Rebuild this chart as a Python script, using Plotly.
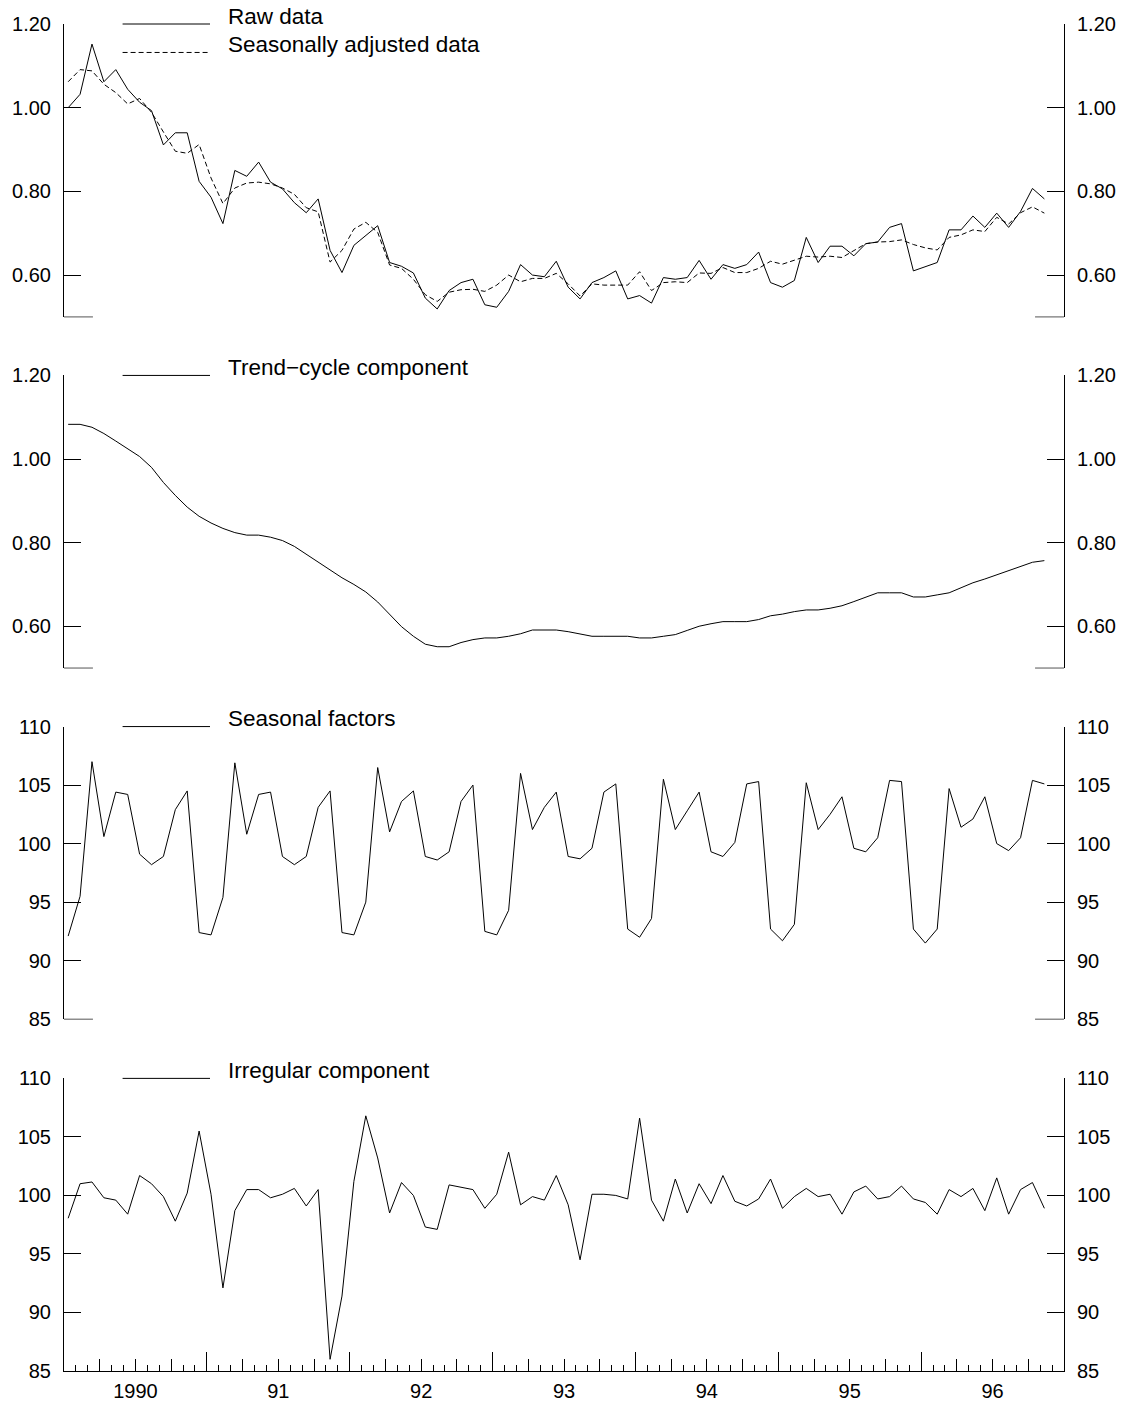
import plotly.graph_objects as go

# ---------------- data (monthly, first point = Jan 1990) ----------------
raw = [1.000, 1.032, 1.152, 1.062, 1.091, 1.044, 1.013, 0.993, 0.911, 0.940,
       0.940, 0.824, 0.786, 0.723, 0.850, 0.836, 0.870, 0.822, 0.806, 0.773,
       0.749, 0.782, 0.659, 0.606, 0.671, 0.694, 0.718, 0.630, 0.621, 0.605,
       0.545, 0.519, 0.563, 0.582, 0.590, 0.529, 0.523, 0.561, 0.625, 0.600,
       0.596, 0.633, 0.571, 0.543, 0.582, 0.594, 0.610, 0.543, 0.551, 0.533,
       0.594, 0.590, 0.594, 0.635, 0.590, 0.625, 0.616, 0.625, 0.655, 0.582,
       0.571, 0.587, 0.690, 0.630, 0.669, 0.669, 0.646, 0.675, 0.679, 0.714,
       0.723, 0.610, 0.620, 0.630, 0.708, 0.708, 0.741, 0.714, 0.748, 0.714,
       0.752, 0.807, 0.782]

seas_adj = [1.062, 1.091, 1.088, 1.056, 1.036, 1.009, 1.022, 0.989, 0.942, 0.896,
            0.891, 0.912, 0.832, 0.771, 0.808, 0.820, 0.822, 0.818, 0.808, 0.793,
            0.761, 0.751, 0.631, 0.659, 0.710, 0.726, 0.702, 0.624, 0.616, 0.590,
            0.553, 0.537, 0.559, 0.565, 0.566, 0.561, 0.576, 0.600, 0.584, 0.592,
            0.592, 0.604, 0.579, 0.550, 0.579, 0.576, 0.576, 0.576, 0.608, 0.563,
            0.582, 0.584, 0.582, 0.605, 0.604, 0.618, 0.606, 0.606, 0.616, 0.633,
            0.626, 0.635, 0.645, 0.643, 0.645, 0.642, 0.659, 0.675, 0.679, 0.680,
            0.684, 0.673, 0.665, 0.660, 0.690, 0.696, 0.708, 0.704, 0.738, 0.722,
            0.749, 0.763, 0.748]

trend = [1.083, 1.083, 1.076, 1.061, 1.043, 1.024, 1.006, 0.980, 0.944, 0.913,
         0.885, 0.863, 0.847, 0.834, 0.824, 0.818, 0.818, 0.813, 0.805, 0.791,
         0.772, 0.754, 0.734, 0.716, 0.700, 0.682, 0.658, 0.629, 0.599, 0.576,
         0.557, 0.551, 0.551, 0.561, 0.568, 0.572, 0.572, 0.576, 0.582, 0.591,
         0.591, 0.591, 0.587, 0.582, 0.576, 0.576, 0.576, 0.576, 0.572, 0.572,
         0.576, 0.580, 0.590, 0.600, 0.606, 0.611, 0.611, 0.611, 0.616, 0.625,
         0.629, 0.635, 0.639, 0.639, 0.643, 0.649, 0.659, 0.670, 0.680, 0.680,
         0.680, 0.670, 0.670, 0.675, 0.680, 0.692, 0.704, 0.713, 0.723, 0.733,
         0.743, 0.753, 0.757]

seasonal = [92.1, 95.5, 107.0, 100.6, 104.4, 104.2, 99.1, 98.2, 98.9, 102.9,
            104.5, 92.4, 92.2, 95.4, 106.9, 100.8, 104.2, 104.4, 98.9, 98.2,
            98.9, 103.1, 104.5, 92.4, 92.2, 95.0, 106.5, 101.0, 103.6, 104.5,
            98.9, 98.6, 99.3, 103.6, 105.0, 92.5, 92.2, 94.3, 106.0, 101.2,
            103.1, 104.4, 98.9, 98.7, 99.6, 104.4, 105.1, 92.7, 92.0, 93.6,
            105.5, 101.2, 102.8, 104.4, 99.3, 98.9, 100.1, 105.1, 105.3, 92.7,
            91.7, 93.1, 105.2, 101.2, 102.5, 104.0, 99.6, 99.3, 100.5, 105.4,
            105.3, 92.7, 91.5, 92.7, 104.7, 101.4, 102.1, 104.0, 100.0, 99.4,
            100.5, 105.4, 105.1]

irregular = [98.05, 101.0, 101.15, 99.8, 99.6, 98.4, 101.7, 101.0, 99.9, 97.8,
             100.2, 105.5, 100.1, 92.1, 98.7, 100.5, 100.5, 99.8, 100.1, 100.6,
             99.1, 100.5, 86.0, 91.4, 101.2, 106.8, 103.2, 98.5, 101.1, 100.0,
             97.3, 97.1, 100.9, 100.7, 100.5, 98.9, 100.1, 103.7, 99.2, 99.9,
             99.6, 101.7, 99.2, 94.5, 100.1, 100.1, 100.0, 99.7, 106.6, 99.6,
             97.8, 101.4, 98.5, 101.0, 99.3, 101.7, 99.5, 99.1, 99.7, 101.4,
             98.9, 99.9, 100.6, 99.9, 100.1, 98.4, 100.3, 100.8, 99.7, 99.9,
             100.8, 99.7, 99.4, 98.4, 100.5, 99.9, 100.6, 98.7, 101.5, 98.4,
             100.5, 101.1, 98.9]

year_labels = ["1990", "91", "92", "93", "94", "95", "96"]
ratio_ticks = [0.60, 0.80, 1.00, 1.20]
index_ticks = [85, 90, 95, 100, 105, 110]

legend_texts = ["Raw data", "Seasonally adjusted data", "Trend\u2212cycle component",
                "Seasonal factors", "Irregular component"]

# ---------------- geometry ----------------
FONT = "Liberation Sans, Arial, Helvetica, sans-serif"
W, H = 1128, 1414
ML, MR, MT, MB = 63, 63, 24, 32
PW = W - ML - MR
PH = H - MT - MB
n_months = 12 * len(year_labels)
x = [i + 0.35 for i in range(len(raw))]


def fy(py):
    return (H - MB - py) / PH


def fx(px):
    return (px - ML) / PW


panels = [(24, 319.3), (378.3, 673.3), (732.3, 1027.3), (1087, 1382)]
ranges = [[0.5, 1.2], [0.5, 1.2], [85, 110], [85, 110]]
tickv = [ratio_ticks, ratio_ticks, index_ticks, index_ticks]
tfmt = [".2f", ".2f", "d", "d"]

fig = go.Figure()
line = dict(color="black", width=1)
fig.add_trace(go.Scatter(x=x, y=raw, mode="lines", line=line, xaxis="x", yaxis="y"))
fig.add_trace(go.Scatter(x=x, y=seas_adj, mode="lines",
                         line=dict(color="black", width=1, dash="5px,3px"),
                         xaxis="x", yaxis="y"))
fig.add_trace(go.Scatter(x=x, y=trend, mode="lines", line=line, xaxis="x2", yaxis="y2"))
fig.add_trace(go.Scatter(x=x, y=seasonal, mode="lines", line=line, xaxis="x3", yaxis="y3"))
fig.add_trace(go.Scatter(x=x, y=irregular, mode="lines", line=line, xaxis="x4", yaxis="y4"))

# empty helper traces so that the overlay axes (right-hand scales, year ticks) get drawn
for k in range(4):
    s = "" if k == 0 else str(k + 1)
    fig.add_trace(go.Scatter(x=[], y=[], mode="lines", xaxis="x" + s,
                             yaxis="y" + str(k + 5), hoverinfo="skip"))
fig.add_trace(go.Scatter(x=[], y=[], mode="lines", xaxis="x5", yaxis="y4",
                         hoverinfo="skip"))

tickfont = dict(family=FONT, size=20, color="black")
layout = dict(
    width=W, height=H,
    margin=dict(l=ML, r=MR, t=MT, b=MB, pad=0),
    paper_bgcolor="white", plot_bgcolor="white",
    showlegend=False, hovermode=False,
    font=dict(family=FONT, color="black"),
)

for k in range(4):
    s = "" if k == 0 else str(k + 1)
    top, bot = panels[k]
    yax = dict(domain=[fy(bot), fy(top)], range=ranges[k], anchor="x" + s,
               tickmode="array", tickvals=tickv[k], tickformat=tfmt[k],
               ticks="inside", ticklen=17, tickwidth=1, tickcolor="black",
               showline=True, linecolor="black", linewidth=1,
               showgrid=False, zeroline=False, tickfont=dict(tickfont),
               ticklabelstandoff=8, fixedrange=True)
    layout["yaxis" + s] = yax
    yr = dict(yax)
    yr.pop("domain")
    yr["tickfont"] = dict(tickfont)
    yr.update(overlaying="y" + s, side="right")
    layout["yaxis" + str(k + 5)] = yr
    xax = dict(domain=[0, 1], range=[0, n_months], anchor="y" + s,
               showgrid=False, zeroline=False, fixedrange=True)
    if k < 3:
        xax.update(showline=False, showticklabels=False, ticks="")
    else:
        qv = list(range(0, n_months + 1, 3))
        qt = []
        for v in qv:
            if v % 12 == 6:
                qt.append(year_labels[v // 12])
            else:
                qt.append("")
        xax.update(showline=True, linecolor="black", linewidth=1,
                   tickmode="array", tickvals=qv, ticktext=qt,
                   ticks="inside", ticklen=12, tickwidth=1, tickcolor="black",
                   tickfont=dict(tickfont), ticklabelstandoff=2,
                   minor=dict(ticks="inside", ticklen=6, tickwidth=1, tickcolor="black",
                              tickmode="linear", tick0=0, dtick=1, showgrid=False))
    layout["xaxis" + s] = xax

layout["xaxis5"] = dict(overlaying="x4", anchor="y4", side="bottom",
                        range=[0, n_months], tickmode="array",
                        tickvals=list(range(12, n_months, 12)),
                        ticks="inside", ticklen=19, tickwidth=1, tickcolor="black",
                        showticklabels=False, showline=False, showgrid=False,
                        zeroline=False, fixedrange=True)

fig.update_layout(**layout)

# ---------------- legend samples and labels ----------------
LEG_X0, LEG_X1, LEG_TX = 121.7, 209.3, 226
LFS = 22.5
legend_rows = [(legend_texts[0], panels[0][0], "solid"),
               (legend_texts[1], panels[0][0] + 28.7, "dash"),
               (legend_texts[2], panels[1][0], "solid"),
               (legend_texts[3], panels[2][0], "solid"),
               (legend_texts[4], panels[3][0], "solid")]
shapes = []
annotations = []
for text, ly, dsh in legend_rows:
    shapes.append(dict(type="line", xref="paper", yref="paper",
                       x0=fx(LEG_X0), x1=fx(LEG_X1), y0=fy(ly), y1=fy(ly),
                       line=dict(color="black", width=1,
                                 dash="5px,3px" if dsh == "dash" else "solid")))
    annotations.append(dict(text=text, xref="paper", yref="paper",
                            x=fx(LEG_TX), y=fy(ly - 0.3465 * LFS),
                            xanchor="left", yanchor="middle", showarrow=False,
                            borderpad=0,
                            font=dict(family=FONT, size=LFS, color="black")))

# short base stubs at the bottom of panels 1-3
STUB = 29 / PW
for k in range(3):
    s = "" if k == 0 else str(k + 1)
    for a, b in [(0, STUB), (1 - STUB, 1)]:
        shapes.append(dict(type="line", xref="x" + s + " domain", yref="y" + s + " domain",
                           x0=a, x1=b, y0=0, y1=0,
                           line=dict(color="#555555", width=1)))

fig.update_layout(shapes=shapes, annotations=annotations)
fig.write_html("out.html")
